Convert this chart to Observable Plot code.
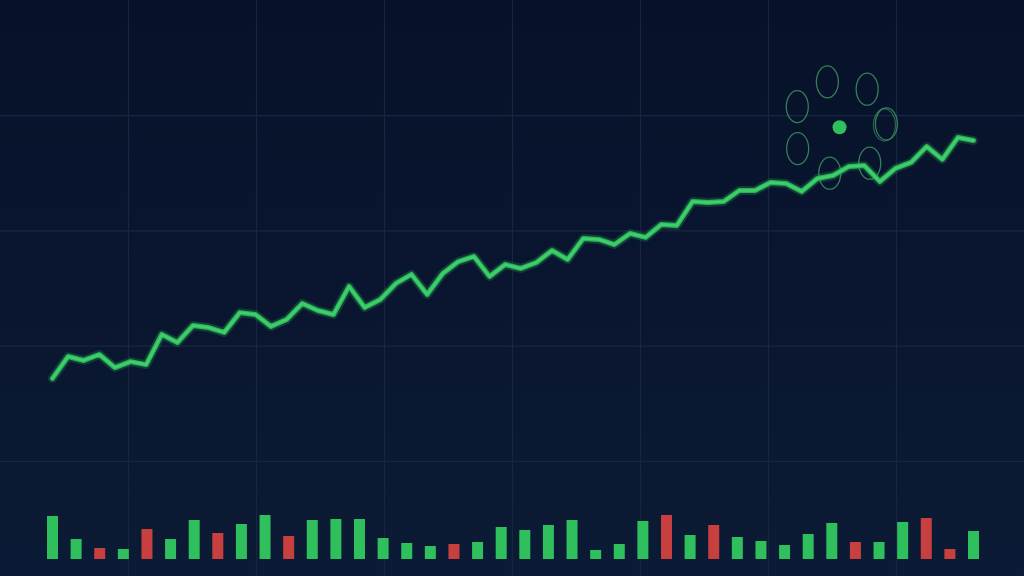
<!DOCTYPE html>
<html><head><meta charset="utf-8">
<script src="https://cdn.jsdelivr.net/npm/d3@7"></script>
<script src="https://cdn.jsdelivr.net/npm/@observablehq/plot@0.6"></script>
<style>
html,body{margin:0;padding:0;background:#0a152d;}
#chart{position:relative;width:1024px;height:576px;background:linear-gradient(180deg,#07112a 0%,#0a1630 55%,#0c1b35 100%);overflow:hidden;}
#chart svg{position:absolute;left:0;top:0;}
</style></head><body><div id="chart"></div>
<script>
const price = [135.7,145.2,143.5,146.1,140.4,143.0,141.7,154.8,151.3,158.7,
  157.8,155.7,164.3,163.5,158.3,161.3,168.3,165.2,163.5,175.7,
  166.5,170.0,177.0,180.9,172.2,181.3,186.5,188.7,180.0,185.2,
  183.5,186.1,191.3,187.4,196.5,196.1,193.9,198.7,197.0,202.6,
  202.2,212.6,212.2,212.6,217.4,217.4,220.9,220.4,217.0,222.6,
  223.9,227.8,228.3,221.3,227.0,229.6,236.5,230.9,240.4,239.1];
const volume = [43,20,11,10,30,20,39,26,35,44,23,39,40,40,21,16,13,15,17,32,
  29,34,39,9,15,38,44,24,34,22,18,14,25,36,17,17,37,41,10,28];
const volumeDir = ["up","up","down","up","down","up","up","down","up","up",
  "down","up","up","up","up","up","up","down","up","up",
  "up","up","up","up","up","up","down","up","down","up",
  "up","up","up","up","down","up","up","down","down","up"];
const gridCols = [1,2,3,4,5,6,7];
const gridRows = [1,2,3,4];
const loaderCenter = [{x: 6.555, y: 1.10}];
const loaderAngles = [-105,-54,-4,50,102,153,206];

const W = 1024, H = 576;
const GREEN = "#2fbf5c", RED = "#c7403f";
const root = document.getElementById("chart");

function ellipseSymbol(rx, ry) {
  const k = 0.5523;
  return {draw(ctx) {
    ctx.moveTo(rx, 0);
    ctx.bezierCurveTo(rx, ry*k, rx*k, ry, 0, ry);
    ctx.bezierCurveTo(-rx*k, ry, -rx, ry*k, -rx, 0);
    ctx.bezierCurveTo(-rx, -ry*k, -rx*k, -ry, 0, -ry);
    ctx.bezierCurveTo(rx*k, -ry, rx, -ry*k, rx, 0);
    ctx.closePath();
  }};
}
const ell = ellipseSymbol(11, 16);
const R = 47;

const base = {width: W, height: H, marginTop: 0, marginRight: 0, marginBottom: 0, marginLeft: 0,
  style: {background: "transparent", overflow: "visible"}};

function attempt(fn) {
  try { root.append(fn()); } catch (e) { console.error(e); }
}

attempt(() => Plot.plot({
  ...base,
  x: {domain: [0, 8], range: [0, W], axis: null},
  y: {domain: [0, 5], range: [0, H], axis: null},
  marks: [
    Plot.ruleX(gridCols, {x: Plot.identity, stroke: "#182641", strokeWidth: 1.2}),
    Plot.ruleY(gridRows, {y: Plot.identity, stroke: "#182641", strokeWidth: 1.2})
  ]
}));

attempt(() => Plot.plot({
  ...base,
  x: {domain: [0, 8], range: [0, W], axis: null},
  y: {domain: [0, 5], range: [0, H], axis: null},
  marks: [
    ...loaderAngles.map((a) => Plot.dot(loaderCenter, {
      x: "x", y: "y", symbol: ell, r: 1, fill: "none",
      stroke: "#3f9b62", strokeOpacity: 0.8, strokeWidth: 1.3,
      dx: R * Math.cos(a * Math.PI / 180), dy: R * Math.sin(a * Math.PI / 180)
    })),
    Plot.dot(loaderCenter, {x: "x", y: "y", symbol: ell, r: 1, fill: "none",
      stroke: "#3f9b62", strokeOpacity: 0.6, strokeWidth: 1.2,
      dx: R * Math.cos(-4 * Math.PI / 180) - 2, dy: R * Math.sin(-4 * Math.PI / 180) + 1}),
    Plot.dot(loaderCenter, {x: "x", y: "y", r: 7, fill: GREEN, stroke: "none"})
  ]
}));

const volData = volume.map((v, i) => ({i, v, dir: volumeDir[i]}));
attempt(() => Plot.plot({
  ...base,
  x: {domain: [0, 39], range: [52, 973], axis: null},
  y: {domain: [0, 50], range: [559, 509], axis: null},
  color: {domain: ["up", "down"], range: [GREEN, RED]},
  marks: [
    Plot.ruleX(volData, {x: "i", y1: 0, y2: "v", stroke: "dir", strokeWidth: 11})
  ]
}));

const priceData = price.map((p, i) => ({i, p}));
attempt(() => Plot.plot({
  ...base,
  x: {domain: [0, 59], range: [52, 973], axis: null},
  y: {domain: [100, 250], range: [460, 115], axis: null},
  marks: [
    Plot.line(priceData, {x: "i", y: "p", stroke: GREEN, strokeWidth: 9, strokeOpacity: 0.22}),
    Plot.line(priceData, {x: "i", y: "p", stroke: "#2cb357", strokeWidth: 5}),
    Plot.line(priceData, {x: "i", y: "p", stroke: "#45d672", strokeWidth: 2.5, strokeOpacity: 0.8})
  ]
}));
</script></body></html>
